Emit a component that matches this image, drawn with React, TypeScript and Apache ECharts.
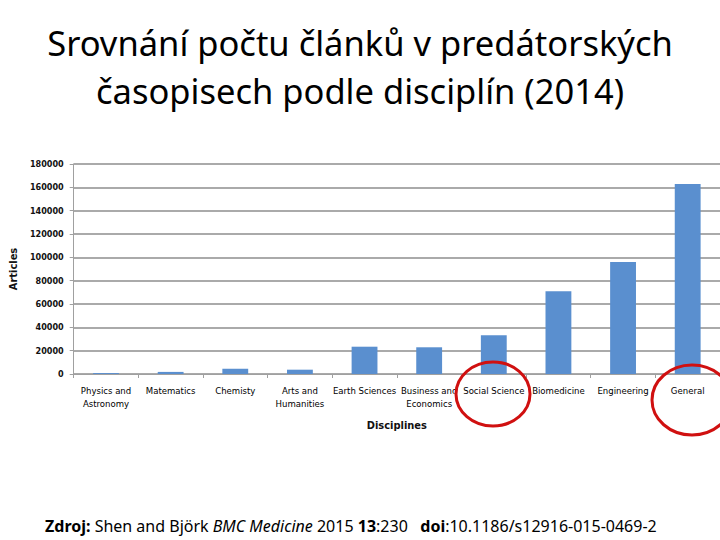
import React, { useEffect, useRef } from "react";
import * as echarts from "echarts";

const categories = [
  "Physics and\nAstronomy",
  "Matematics",
  "Chemisty",
  "Arts and\nHumanities",
  "Earth Sciences",
  "Business and\nEconomics",
  "Social Science",
  "Biomedicine",
  "Engineering",
  "General",
];
const articles = [800, 1800, 4500, 3700, 23400, 22900, 33200, 70900, 96000, 162900];
const yMax = 180000;
const yInterval = 20000;
const titleText = "Srovnání počtu článků v predátorských\nčasopisech podle disciplín (2014)";

export default function App() {
  const ref = useRef<HTMLDivElement>(null);
  useEffect(() => {
    if (!ref.current) return;
    const chart = echarts.init(ref.current, undefined, { renderer: "svg" });
    const narrow = "'DejaVu Sans Condensed', Roboto, sans-serif";
    chart.setOption({
      animation: false,
      backgroundColor: "#ffffff",
      title: [
        {
          text: titleText,
          left: "center",
          top: 13,
          textStyle: {
            fontFamily: "'Noto Sans', sans-serif",
            fontSize: 34.5,
            fontWeight: "normal",
            color: "#000",
            lineHeight: 48,
          },
        },
        {
          text:
            "{b|Zdroj:} Shen and Björk {i|BMC Medicine} 2015 {b|13}:230   {b|doi}:10.1186/s12916-015-0469-2",
          left: 40,
          top: 513,
          textStyle: {
            fontFamily: "'Noto Sans', sans-serif",
            fontSize: 16,
            fontWeight: "normal",
            color: "#000",
            rich: {
              b: { fontFamily: "'Noto Sans', sans-serif", fontSize: 16, fontWeight: "bold", color: "#000" },
              i: { fontFamily: "'Noto Sans', sans-serif", fontSize: 16, fontStyle: "italic", color: "#000" },
            },
          },
        },
      ],
      grid: { left: 57, right: 0, top: 164, bottom: 166, containLabel: false },
      xAxis: {
        type: "category",
        data: categories,
        name: "Disciplines",
        nameLocation: "middle",
        nameGap: 46,
        nameTextStyle: { fontFamily: narrow, fontSize: 11, fontWeight: "bold", color: "#111" },
        axisLine: { lineStyle: { color: "#a0a0a0", width: 1 } },
        axisTick: { show: true, length: 4, lineStyle: { color: "#a0a0a0" } },
        axisLabel: {
          interval: 0,
          margin: 10,
          fontFamily: narrow,
          fontSize: 9.5,
          fontWeight: "normal",
          lineHeight: 13,
          color: "#000",
        },
      },
      yAxis: {
        type: "value",
        min: 0,
        max: yMax,
        interval: yInterval,
        name: "Articles",
        nameLocation: "middle",
        nameGap: 51,
        nameRotate: 90,
        nameTextStyle: { fontFamily: narrow, fontSize: 11, fontWeight: "bold", color: "#111", verticalAlign: "middle" },
        axisLine: { show: true, lineStyle: { color: "#a0a0a0", width: 1 } },
        axisTick: { show: true, length: 4, lineStyle: { color: "#a0a0a0" } },
        axisLabel: {
          margin: 10,
          fontFamily: narrow,
          fontSize: 9,
          fontWeight: "bold",
          color: "#111",
          formatter: (v: number) => String(v),
        },
        splitLine: { lineStyle: { color: "#aaaaaa", width: 2 } },
      },
      series: [
        {
          type: "bar",
          data: articles,
          barWidth: "40%",
          itemStyle: { color: "#5a8fcf" },
        },
      ],
      graphic: [
        {
          type: "ellipse",
          shape: { cx: 493, cy: 394, rx: 37, ry: 32 },
          style: { fill: "none", stroke: "#d01010", lineWidth: 3 },
          z: 100,
        },
        {
          type: "ellipse",
          shape: { cx: 692, cy: 400, rx: 40, ry: 35 },
          style: { fill: "none", stroke: "#d01010", lineWidth: 3 },
          z: 100,
        },
      ],
    });
    return () => chart.dispose();
  }, []);
  return (
    <div
      ref={ref}
      style={{ position: "fixed", left: 0, top: 0, width: 720, height: 540 }}
    />
  );
}
